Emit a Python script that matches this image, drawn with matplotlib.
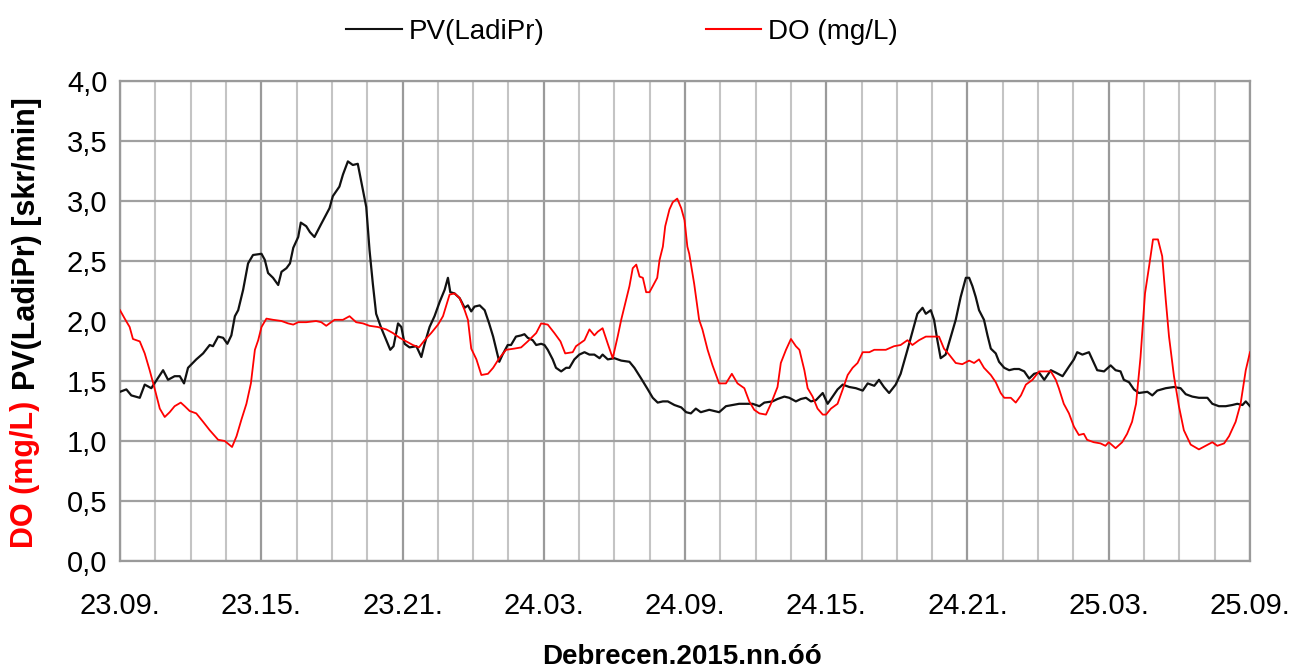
import matplotlib
matplotlib.use("Agg")
import matplotlib.pyplot as plt
from matplotlib.lines import Line2D
import numpy as np

plt.rcParams['font.family'] = ['Liberation Sans', 'DejaVu Sans']

# hours since 23.09. (day 23, 09:00)
pv_hours = [0, 0.27, 0.48, 0.84, 1.05, 1.33, 1.83, 2.04, 2.32, 2.54, 2.72, 2.89, 3.24, 3.53, 3.81, 3.95,
            4.17, 4.38, 4.56, 4.73, 4.88, 5.02, 5.23, 5.44, 5.65, 6.01, 6.15, 6.29, 6.5, 6.72, 6.86, 7.07,
            7.22, 7.36, 7.57, 7.68, 7.91, 8.07, 8.26, 8.55, 8.90, 9.04, 9.32, 9.47, 9.68, 9.89, 10.1, 10.25,
            10.46, 10.6, 10.74, 10.88, 11.1, 11.31, 11.48, 11.62, 11.81, 11.95, 12.09, 12.3, 12.59, 12.8,
            12.94, 13.15, 13.36, 13.58, 13.79, 13.93, 14.03, 14.21, 14.43, 14.64, 14.78, 14.92, 15.06, 15.28,
            15.49, 15.68, 15.85, 16.11, 16.25, 16.47, 16.61, 16.82, 17.04, 17.18, 17.32, 17.53, 17.68, 17.89,
            18.03, 18.17, 18.38, 18.52, 18.74, 18.95, 19.09, 19.3, 19.51, 19.73, 19.94, 20.15, 20.37, 20.5,
            20.72, 21.0, 21.29, 21.64, 21.85, 22.14, 22.42, 22.63, 22.84, 23.06, 23.27, 23.55, 23.84, 24.05,
            24.25, 24.46, 24.67, 25.03, 25.45, 25.74, 26.02, 26.3, 26.59, 26.87, 27.16, 27.37, 27.72, 27.93,
            28.22, 28.43, 28.71, 28.92, 29.14, 29.35, 29.56, 29.85, 30.06, 30.27, 30.48, 30.7, 30.98, 31.26,
            31.55, 31.76, 32.04, 32.24, 32.45, 32.67, 32.95, 33.16, 33.45, 33.66, 33.87, 34.09, 34.23, 34.44,
            34.58, 34.72, 34.86, 35.07, 35.29, 35.5, 35.71, 35.93, 36.07, 36.21, 36.35, 36.49, 36.7, 36.85,
            36.99, 37.2, 37.34, 37.56, 37.77, 37.98, 38.19, 38.41, 38.62, 38.83, 39.04, 39.26, 39.54, 39.75,
            40.04, 40.31, 40.52, 40.66, 40.88, 41.16, 41.3, 41.51, 41.8, 42.08, 42.29, 42.5, 42.64, 42.86,
            43.07, 43.28, 43.64, 43.85, 44.06, 44.42, 44.77, 45.05, 45.27, 45.55, 45.83, 46.19, 46.4, 46.68,
            46.97, 47.25, 47.46, 47.68, 47.82, 48.0]
pv_values = [1.41, 1.43, 1.38, 1.36, 1.47, 1.44, 1.59, 1.51, 1.54, 1.54, 1.48, 1.61, 1.68, 1.73, 1.80, 1.79,
             1.87, 1.86, 1.81, 1.88, 2.04, 2.09, 2.26, 2.48, 2.55, 2.56, 2.51, 2.40, 2.36, 2.30, 2.41, 2.44,
             2.48, 2.61, 2.70, 2.82, 2.79, 2.74, 2.70, 2.81, 2.94, 3.04, 3.12, 3.22, 3.33, 3.30, 3.31, 3.16,
             2.95, 2.59, 2.31, 2.06, 1.94, 1.84, 1.76, 1.79, 1.98, 1.95, 1.81, 1.78, 1.79, 1.70,
             1.81, 1.95, 2.04, 2.16, 2.26, 2.36, 2.24, 2.23, 2.19, 2.11, 2.13, 2.08, 2.12, 2.13,
             2.09, 1.98, 1.87, 1.66, 1.72, 1.80, 1.80, 1.87, 1.88, 1.89, 1.86, 1.84, 1.80, 1.81,
             1.80, 1.76, 1.68, 1.61, 1.58, 1.61, 1.61, 1.68, 1.72, 1.74, 1.72, 1.72, 1.69, 1.72,
             1.68, 1.69, 1.67, 1.66, 1.61, 1.52, 1.43, 1.36, 1.32, 1.33, 1.33, 1.30, 1.28, 1.24,
             1.23, 1.27, 1.24, 1.26, 1.24, 1.29, 1.30, 1.31, 1.31, 1.31, 1.29, 1.32, 1.33, 1.35,
             1.37, 1.36, 1.33, 1.35, 1.36, 1.33, 1.34, 1.40, 1.31, 1.37, 1.43, 1.47, 1.45, 1.44,
             1.42, 1.48, 1.46, 1.51, 1.45, 1.40, 1.47, 1.56, 1.76, 1.91, 2.06, 2.11, 2.06, 2.09,
             2.01, 1.84, 1.69, 1.72, 1.87, 2.01, 2.20, 2.36, 2.36, 2.29, 2.20, 2.09, 2.01, 1.88,
             1.77, 1.73, 1.66, 1.61, 1.59, 1.60, 1.60, 1.58, 1.52, 1.56, 1.57, 1.51, 1.59, 1.57,
             1.54, 1.62, 1.68, 1.74, 1.72, 1.74, 1.68, 1.59, 1.58, 1.63, 1.59, 1.58, 1.51, 1.49,
             1.43, 1.40, 1.41, 1.38, 1.42, 1.44, 1.45, 1.44, 1.39, 1.37, 1.36, 1.36, 1.31, 1.29,
             1.29, 1.30, 1.31, 1.30, 1.33, 1.29]

do_hours = [0, 0.2, 0.41, 0.55, 0.84, 1.05, 1.26, 1.48, 1.69, 1.9, 2.11, 2.32, 2.58, 2.75, 2.96, 3.24, 3.53,
            3.81, 4.17, 4.45, 4.76, 4.95, 5.16, 5.37, 5.56, 5.73, 5.87, 6.01, 6.22, 6.5, 6.86, 7.14, 7.36,
            7.57, 7.91, 8.33, 8.55, 8.76, 9.11, 9.47, 9.75, 10.03, 10.32, 10.6, 10.95, 11.31, 11.59, 11.88,
            12.16, 12.44, 12.7, 12.94, 13.22, 13.51, 13.72, 13.86, 14.0, 14.21, 14.43, 14.64, 14.78, 14.92,
            15.14, 15.35, 15.63, 15.85, 16.11, 16.4, 16.75, 17.04, 17.32, 17.68, 17.89, 18.17, 18.45, 18.71,
            18.91, 19.23, 19.37, 19.73, 19.94, 20.15, 20.29, 20.5, 20.72, 20.93, 21.14, 21.29, 21.5, 21.64,
            21.78, 21.93, 22.07, 22.21, 22.35, 22.49, 22.63, 22.82, 22.92, 23.06, 23.16, 23.34, 23.48, 23.67,
            23.84, 23.98, 24.1, 24.18, 24.39, 24.6, 24.74, 24.96, 25.17, 25.45, 25.74, 25.99, 26.23, 26.52,
            26.73, 26.94, 27.16, 27.44, 27.65, 27.93, 28.07, 28.29, 28.5, 28.71, 28.86, 29.07, 29.21, 29.42,
            29.63, 29.85, 29.99, 30.2, 30.48, 30.7, 30.91, 31.12, 31.33, 31.55, 31.83, 32.04, 32.24, 32.53,
            32.88, 33.16, 33.45, 33.66, 33.94, 34.23, 34.51, 34.79, 35.0, 35.22, 35.5, 35.78, 36.07, 36.28,
            36.49, 36.7, 36.99, 37.2, 37.41, 37.56, 37.84, 38.05, 38.27, 38.48, 38.76, 39.04, 39.33, 39.54,
            39.75, 39.88, 40.09, 40.31, 40.52, 40.73, 40.94, 41.08, 41.36, 41.65, 41.86, 42.0, 42.29, 42.57,
            42.78, 42.99, 43.16, 43.35, 43.54, 43.71, 43.88, 44.09, 44.27, 44.42, 44.56, 44.77, 44.98, 45.19,
            45.48, 45.83, 46.12, 46.4, 46.61, 46.9, 47.11, 47.39, 47.6, 47.82, 48.0]
do_values = [2.09, 2.02, 1.95, 1.85, 1.83, 1.73, 1.59, 1.43, 1.27, 1.20, 1.24, 1.29, 1.32, 1.29, 1.25, 1.23, 1.16,
             1.09, 1.01, 1.00, 0.95, 1.04, 1.18, 1.31, 1.48, 1.76, 1.84, 1.95, 2.02, 2.01, 2.00, 1.98, 1.97,
             1.99, 1.99, 2.00, 1.99, 1.96, 2.01, 2.01, 2.04, 1.99, 1.98, 1.96, 1.95, 1.93, 1.90, 1.86,
             1.83, 1.80, 1.78, 1.84, 1.90, 1.97, 2.04, 2.13, 2.22, 2.23, 2.19, 2.09, 2.01, 1.77,
             1.68, 1.55, 1.56, 1.61, 1.69, 1.76, 1.77, 1.78, 1.83, 1.90, 1.98, 1.97, 1.90, 1.83,
             1.73, 1.74, 1.79, 1.84, 1.93, 1.88, 1.91, 1.94, 1.81, 1.69, 1.87, 2.01, 2.18, 2.29,
             2.44, 2.47, 2.37, 2.36, 2.24, 2.24, 2.29, 2.36, 2.51, 2.62, 2.79, 2.93, 2.99, 3.02,
             2.94, 2.84, 2.62, 2.56, 2.31, 2.01, 1.93, 1.76, 1.63, 1.48, 1.48, 1.56, 1.48, 1.44,
             1.33, 1.26, 1.23, 1.22, 1.31, 1.45, 1.65, 1.76, 1.85, 1.79, 1.76, 1.59, 1.44, 1.37,
             1.27, 1.22, 1.22, 1.27, 1.31, 1.43, 1.55, 1.61, 1.65, 1.74, 1.74, 1.76, 1.76, 1.76,
             1.79, 1.80, 1.84, 1.80, 1.84, 1.87, 1.87, 1.87, 1.77, 1.72, 1.65, 1.64, 1.67, 1.65,
             1.68, 1.61, 1.55, 1.49, 1.40, 1.36, 1.36, 1.32, 1.38, 1.47, 1.51, 1.58, 1.58, 1.58,
             1.51, 1.44, 1.31, 1.23, 1.12, 1.05, 1.06, 1.01, 0.99, 0.98, 0.96, 0.99, 0.94, 0.99,
             1.06, 1.16, 1.31, 1.70, 2.23, 2.45, 2.68, 2.68, 2.54, 2.18, 1.87, 1.54, 1.29, 1.09,
             0.97, 0.93, 0.96, 0.99, 0.96, 0.98, 1.04, 1.16, 1.31, 1.59, 1.74]

x_tick_hours = [0, 6, 12, 18, 24, 30, 36, 42, 48]
x_tick_labels = ['23.09.', '23.15.', '23.21.', '24.03.', '24.09.', '24.15.', '24.21.', '25.03.', '25.09.']
y_ticks = [0.0, 0.5, 1.0, 1.5, 2.0, 2.5, 3.0, 3.5, 4.0]

W, H = 1291, 671
fig = plt.figure(figsize=(W / 100, H / 100), dpi=100)
ax = fig.add_axes([120 / W, 1 - 561 / H, (1250 - 120) / W, (561 - 81) / H])

# grid
for h in np.arange(0, 48.01, 1.5):
    major = abs(h / 6 - round(h / 6)) < 1e-6
    ax.axvline(h, color='#9a9a9a' if major else '#c4c4c4', lw=1.6 if major else 1.5, zorder=1)
for v in y_ticks:
    ax.axhline(v, color='#a0a0a0', lw=1.6, zorder=1)

ax.plot(pv_hours, pv_values, color='#111111', lw=1.6, zorder=3)
ax.plot(do_hours, do_values, color='#ff0000', lw=1.3, zorder=3)

ax.set_xlim(0, 48)
ax.set_ylim(0, 4.0)
ax.set_xticks(x_tick_hours)
ax.set_xticklabels(x_tick_labels)
ax.set_yticks(y_ticks)
ax.set_yticklabels([f"{v:.1f}".replace('.', ',') for v in y_ticks])
ax.tick_params(axis='both', length=0, labelsize=21, colors='#000000')
ax.tick_params(axis='x', pad=22)
ax.tick_params(axis='y', pad=9)
for s in ax.spines.values():
    s.set_color('#9a9a9a')
    s.set_linewidth(1.6)

# axis label (two colours)
fig.text(27 / W, 1 - 97 / H, 'PV(LadiPr) [skr/min]', rotation=90, ha='center', va='top',
         fontsize=22, fontweight='bold', color='black')
fig.text(25 / W, 1 - 548 / H, 'DO (mg/L)', rotation=90, ha='center', va='bottom',
         fontsize=22, fontweight='bold', color='#ff0000')

fig.text(682 / W, 1 - 657 / H, 'Debrecen.2015.nn.óó', ha='center', va='center',
         fontsize=20, fontweight='bold')

handles = [Line2D([], [], color='#111111', lw=1.5), Line2D([], [], color='#ff0000', lw=1.5)]
fig.legend(handles, ['PV(LadiPr)', 'DO (mg/L)'], loc='center', bbox_to_anchor=(622 / W, 1 - 32 / H),
           ncol=2, frameon=False, fontsize=20, handlelength=2.0, handletextpad=0.25, columnspacing=5.8)

fig.savefig('out.png', dpi=100)
